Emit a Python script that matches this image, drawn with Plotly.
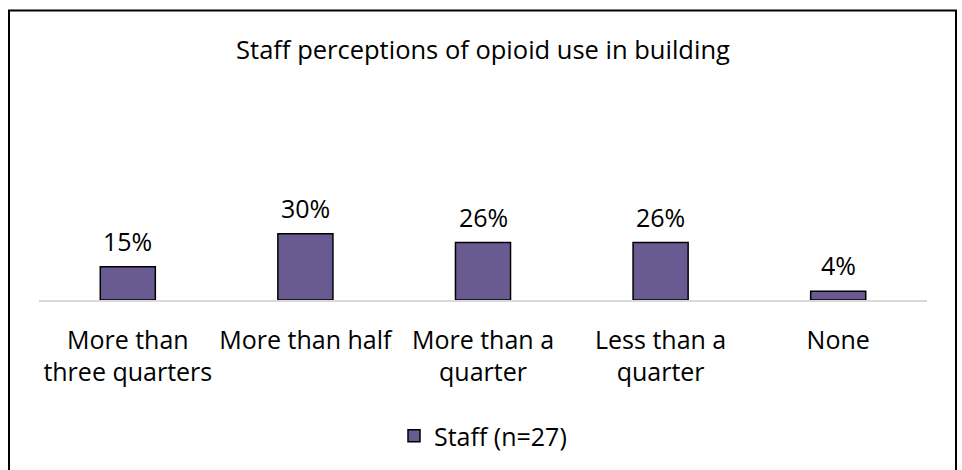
import plotly.graph_objects as go

# Survey responses: share of staff choosing each option
categories = ["More than three quarters", "More than half", "More than a quarter",
              "Less than a quarter", "None"]
tick_labels = ["More than<br>three quarters", "More than half", "More than a<br>quarter",
               "Less than a<br>quarter", "None"]
shares = [0.15, 0.30, 0.26, 0.26, 0.04]
series_name = "Staff (n=27)"
title_text = "Staff perceptions of opioid use in building"

FONT = "Open Sans"
FS = 25
BAR_COLOR = "#695a92"

fig = go.Figure()
fig.add_trace(go.Bar(
    x=categories,
    y=shares,
    name=series_name,
    marker=dict(color=BAR_COLOR, line=dict(color="#000000", width=1.5)),
    showlegend=True,
    hoverinfo="skip",
))

# Value labels sitting above each bar
for cat, val in zip(categories, shares):
    fig.add_annotation(
        x=cat, y=val, xref="x", yref="y",
        text=f"{val:.0%}", showarrow=False,
        yanchor="bottom", yshift=7,
        font=dict(family=FONT, size=FS, color="#000000"),
    )

L, R, T, B = 39, 35, 100, 169
W, H = 962, 470
plot_w = W - L - R
plot_h = H - T - B

def px_x(px):
    return (px - L) / plot_w

def px_y(py):
    return (H - B - py) / plot_h

# Chart-area frame
fig.add_shape(type="rect", xref="paper", yref="paper",
              x0=px_x(9), x1=px_x(956), y0=px_y(480), y1=px_y(10),
              line=dict(color="#000000", width=2), fillcolor="rgba(0,0,0,0)", layer="above")

fig.update_layout(
    width=W, height=H,
    margin=dict(l=L, r=R, t=T, b=B, pad=0),
    paper_bgcolor="#ffffff",
    plot_bgcolor="#ffffff",
    bargap=0.69,
    title=dict(text=title_text, x=0.5, xref="paper", xanchor="center",
               y=1 - 50 / H, yref="container", yanchor="middle",
               font=dict(family=FONT, size=25.5, color="#000000")),
    font=dict(family=FONT, size=FS, color="#000000"),
    xaxis=dict(
        tickmode="array", tickvals=categories, ticktext=tick_labels,
        showline=True, linecolor="#d9d9d9", linewidth=1.5,
        showgrid=False, ticks="", zeroline=False,
        ticklabelstandoff=17,
        tickfont=dict(family=FONT, size=FS, color="#000000"),
        fixedrange=True,
    ),
    yaxis=dict(range=[0, 0.905], visible=False, showgrid=False, zeroline=False,
               fixedrange=True),
    legend=dict(orientation="h", x=0.5, xanchor="center", y=px_y(436), yanchor="middle",
                font=dict(family=FONT, size=FS, color="#000000"),
                bgcolor="rgba(0,0,0,0)"),
)

fig.write_html("out.html")
